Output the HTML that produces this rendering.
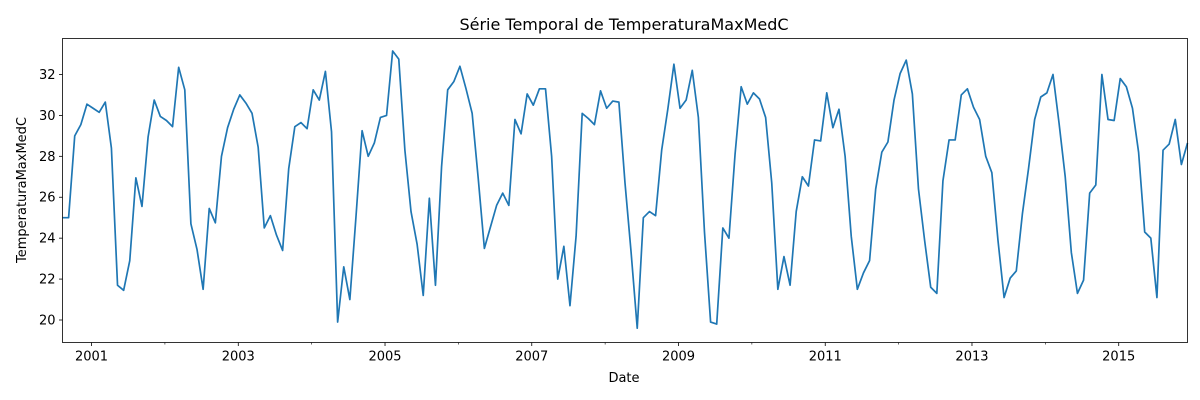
<!DOCTYPE html>
<html><head><meta charset="utf-8"><style>
body{margin:0;background:#fff}
svg{display:block;font-family:"DejaVu Sans","Liberation Sans",sans-serif}
</style></head><body>
<svg id="chart" width="1200" height="400" viewBox="0 0 1200 400">
<rect width="1200" height="400" fill="#fff"/>
<text x="624" y="30" font-size="16" text-anchor="middle" fill="#000">Série Temporal de TemperaturaMaxMedC</text>
<text x="624" y="382" font-size="13" text-anchor="middle" fill="#000">Date</text>
<text transform="translate(26,190) rotate(-90)" font-size="13" text-anchor="middle" fill="#000">TemperaturaMaxMedC</text>
<g id="plot"></g>
</svg>
<script>
const values = [25.0,25.0,29.0,29.55,30.55,30.35,30.15,30.65,28.4,21.7,21.45,22.9,26.95,25.55,28.95,30.75,29.95,29.75,29.45,32.35,31.25,24.7,23.45,21.5,25.45,24.75,28.0,29.4,30.3,31.0,30.6,30.1,
28.45,24.5,25.1,24.15,23.4,27.4,29.45,29.65,29.35,31.25,30.75,32.15,29.2,19.9,22.6,21.0,25.05,29.25,28.0,28.65,29.9,30.0,33.15,32.75,28.3,25.3,23.7,21.2,25.95,21.7,
27.5,31.25,31.65,32.4,31.3,30.1,26.9,23.5,24.55,25.6,26.2,25.6,29.8,29.1,31.05,30.5,31.3,31.3,28.0,22.0,23.6,20.7,24.1,30.1,29.85,29.55,31.2,30.35,30.7,30.65,
26.7,23.3,19.6,25.0,25.3,25.1,28.3,30.3,32.5,30.35,30.75,32.2,29.9,24.3,19.9,19.8,24.5,24.0,28.1,31.4,30.55,31.1,30.8,29.9,26.7,21.5,23.1,21.7,25.3,27.0,26.55,28.8,
28.75,31.1,29.4,30.3,28.0,24.1,21.5,22.3,22.9,26.4,28.2,28.7,30.75,32.05,32.7,31.05,26.4,23.9,21.6,21.3,26.8,28.8,28.8,31.0,31.3,30.4,29.8,28.0,27.2,23.9,21.1,
22.05,22.4,25.2,27.4,29.8,30.9,31.1,32.0,29.6,27.0,23.3,21.3,21.95,26.2,26.6,32.0,29.8,29.75,31.8,31.4,30.35,28.2,24.3,24.0,21.1,28.3,28.6,29.8,27.6,28.65];
const yTicks = [20,22,24,26,28,30,32];
const xTickLabels = ["2001","2003","2005","2007","2009","2011","2013","2015"];
const xMinorLabels = ["2002","2004","2006","2008","2010","2012","2014"];
const startMonth = 7.25; // months since Jan 2000 of first point

const L=62.5,R=1187.5,T=38.5,B=342.5;
const NS='http://www.w3.org/2000/svg';
const n=values.length;
function xM(m){return L+(m-startMonth)*(R-L)/(n-1);}
function xI(i){return xM(startMonth+i);}
function xYear(y){return xM((y-2000)*12);}
function yS(v){return 320-(v-20)*20.46;}
const g=document.getElementById('plot');
function mk(tag,attrs){const e=document.createElementNS(NS,tag);for(const k in attrs)e.setAttribute(k,attrs[k]);g.appendChild(e);return e;}

yTicks.forEach(v=>{
  const y=yS(v);
  const t=mk('line',{x1:L-3.5,x2:L,y1:y,y2:y,stroke:'#000','stroke-width':0.8});
  
  
  const lb=mk('text',{x:L-7,y:y+4.5,'font-size':13,'text-anchor':'end',fill:'#000'});
  lb.textContent=v;
  
  
});
xTickLabels.forEach(s=>{
  const x=xYear(+s);
  const t=mk('line',{x1:x,x2:x,y1:B,y2:B+3.5,stroke:'#000','stroke-width':0.8});
  
  
  const lb=mk('text',{x:x,y:B+18,'font-size':13,'text-anchor':'middle',fill:'#000'});
  lb.textContent=s;
  
  
});
xMinorLabels.forEach(s=>{
  const x=xYear(+s);
  const t=mk('line',{x1:x,x2:x,y1:B,y2:B+2,stroke:'#000','stroke-width':0.6});
  
  
});
const d=values.map((v,i)=>(i?'L':'M')+xI(i).toFixed(2)+','+yS(v).toFixed(2)).join('');
const p=mk('path',{d:d,fill:'none',stroke:'#1f77b4','stroke-width':1.7,'stroke-linejoin':'round'});


const fr=mk('rect',{x:L,y:T,width:R-L,height:B-T,fill:'none',stroke:'#000','stroke-width':0.8});


</script>
</body></html>
